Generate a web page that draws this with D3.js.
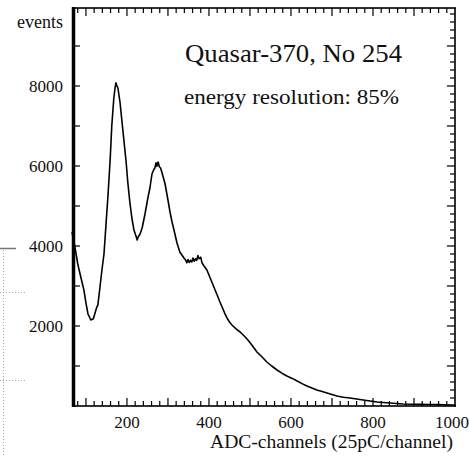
<!DOCTYPE html>
<html>
<head>
<meta charset="utf-8">
<script src="https://cdn.jsdelivr.net/npm/d3@7"></script>
<style>
  html, body { margin: 0; padding: 0; background: #fff; }
  svg { display: block; }
  text { font-family: "Liberation Serif", "DejaVu Serif", serif; fill: #111; }
</style>
</head>
<body>
<svg id="chart" width="469" height="457"></svg>
<script>
// ---- data ----
const channels = [66, 70, 76, 80, 88, 95, 100, 105, 112, 118, 122, 126, 129, 134, 139, 144, 149, 154, 159, 163, 168, 171, 173, 176, 178, 183, 188, 193, 198, 202, 207, 212, 217, 222, 225, 227, 232, 237, 244, 251, 256, 261, 265, 268, 271, 273, 276, 279, 282, 285, 289, 293, 300, 305, 310, 317, 322, 329, 334, 339, 343, 346, 349, 352, 355, 358, 361, 364, 367, 370, 373, 376, 380, 383, 388, 395, 401, 407, 413, 420, 426, 432, 438, 444, 450, 456, 466, 476, 486, 495, 505, 517, 529, 541, 553, 566, 578, 590, 603, 615, 627, 639, 651, 663, 676, 688, 700, 712, 728, 744, 760, 776, 793, 810, 825, 841, 857, 873, 894, 915, 935, 956, 975, 995, 1000];
const counts   = [4350, 4150, 3800, 3550, 3200, 2900, 2580, 2300, 2150, 2180, 2320, 2460, 2520, 2950, 3400, 3800, 4550, 5300, 6150, 7000, 7700, 7950, 8080, 7990, 7950, 7600, 7100, 6600, 6100, 5600, 5100, 4700, 4400, 4250, 4150, 4220, 4300, 4450, 4800, 5200, 5450, 5800, 5900, 5950, 6080, 5990, 6100, 5980, 5950, 5850, 5700, 5550, 5150, 4850, 4600, 4300, 4075, 3850, 3775, 3700, 3650, 3580, 3660, 3590, 3640, 3600, 3700, 3620, 3680, 3640, 3760, 3680, 3720, 3580, 3500, 3400, 3250, 3100, 2950, 2775, 2620, 2475, 2330, 2200, 2100, 2025, 1930, 1850, 1750, 1650, 1520, 1350, 1230, 1100, 1000, 900, 820, 750, 690, 625, 560, 500, 450, 400, 360, 325, 290, 250, 220, 200, 175, 150, 125, 100, 88, 75, 62, 50, 45, 40, 37, 35, 30, 25, 25];

const xMajorTicks = [200, 400, 600, 800, 1000];
const yMajorTicks = [2000, 4000, 6000, 8000];
const yAxisLabel = "events";
const xAxisLabel = "ADC-channels (25pC/channel)";
const titleText = "Quasar-370, No 254";
const subtitleText = "energy resolution: 85%";

// ---- layout ----
const svg = d3.select("#chart");
const pl = 72, pr = 455, pt = 8, pb = 406;
const ink = "#000";

const x = d3.scaleLinear().domain([66, 1000]).range([pl, pr]);
const y = d3.scaleLinear().domain([0, 9950]).range([pb, pt]);

// stray marks at the left edge of the scanned figure
svg.append("path").attr("d", "M0,248.5H16").attr("fill", "none").attr("stroke", "#777").attr("stroke-width", 1.5);
svg.append("path").attr("d", "M3.5,250V457M0,292.5H26M0,380.5H26").attr("fill", "none")
  .attr("stroke", "#aaa").attr("stroke-width", 1).attr("stroke-dasharray", "1,2");

const g = svg.append("g");

// filled bars for frame and ticks
const bars = [];
function hbar(x1, x2, yc, w) { bars.push({ x: Math.min(x1, x2), y: yc - w / 2, w: Math.abs(x2 - x1), h: w }); }
function vbar(xc, y1, y2, w) { bars.push({ x: xc - w / 2, y: Math.min(y1, y2), w: w, h: Math.abs(y2 - y1) }); }

// frame
hbar(pl, pr + 1, pt, 1.6);
hbar(pl, pr + 1, pb, 1.6);
vbar(pr, pt, pb + 0.8, 1.6);
vbar(pl + 1.5, pt - 0.8, pb + 0.8, 3.5);

// x ticks (bottom and top): minor every 20, major every 100
d3.range(80, 1000, 20).forEach(v => {
  const len = v % 100 === 0 ? 8 : 5;
  vbar(x(v), pb, pb - len, 1.2);
  vbar(x(v), pt, pt + len, 1.2);
});
// y ticks: left every 1000, right minor every 200 / major every 1000
d3.range(1000, 10000, 1000).forEach(v => hbar(pl, pl + 8, y(v), 1.2));
d3.range(200, 10000, 200).forEach(v => {
  const len = v % 1000 === 0 ? 8 : 5;
  hbar(pr, pr - len, y(v), 1.2);
});

g.selectAll("rect.bar").data(bars).enter().append("rect")
  .attr("class", "bar")
  .attr("x", d => d.x).attr("y", d => d.y).attr("width", d => d.w).attr("height", d => d.h)
  .attr("fill", ink);

// tick labels
g.selectAll("text.xl").data(xMajorTicks).enter().append("text")
  .attr("class", "xl")
  .attr("x", d => Math.min(x(d), 452)).attr("y", 428).attr("text-anchor", "middle")
  .attr("font-size", 17).text(d => d);
g.selectAll("text.yl").data(yMajorTicks).enter().append("text")
  .attr("class", "yl")
  .attr("x", 63).attr("y", d => y(d) + 6).attr("text-anchor", "end")
  .attr("font-size", 17).text(d => d);

g.append("text").attr("x", 63).attr("y", 28).attr("text-anchor", "end")
  .attr("font-size", 18).text(yAxisLabel);
g.append("text").attr("x", 210).attr("y", 448)
  .attr("font-size", 19.5).attr("textLength", 243).attr("lengthAdjust", "spacingAndGlyphs")
  .text(xAxisLabel);

g.append("text").attr("x", 185).attr("y", 62).attr("font-size", 25)
  .attr("textLength", 217).attr("lengthAdjust", "spacingAndGlyphs").text(titleText);
g.append("text").attr("x", 184).attr("y", 104).attr("font-size", 20)
  .attr("textLength", 215).attr("lengthAdjust", "spacingAndGlyphs").text(subtitleText);

// spectrum
const pts = channels.map((c, i) => [c, counts[i]]);
const lineGen = d3.line().x(d => x(d[0])).y(d => y(d[1]));
g.append("path").datum(pts).attr("d", lineGen)
  .attr("fill", "none").attr("stroke", ink).attr("stroke-width", 1.6).attr("stroke-linejoin", "round");
</script>
</body>
</html>
